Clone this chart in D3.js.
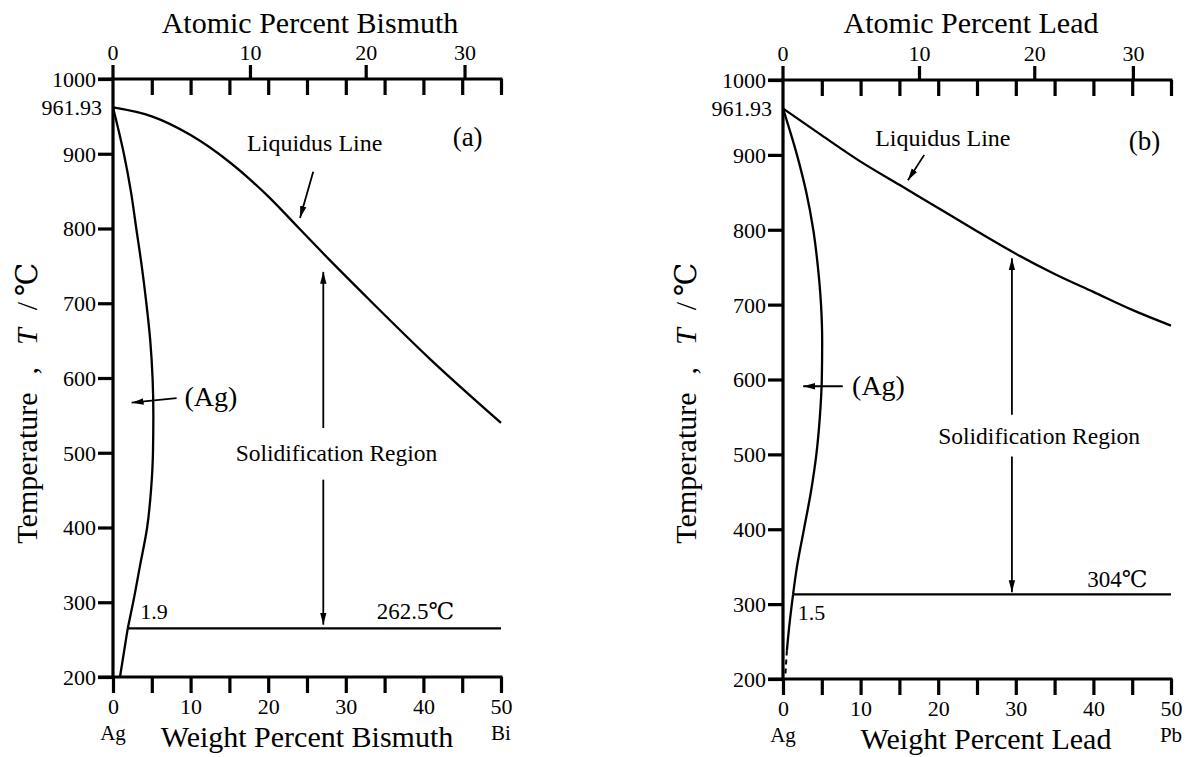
<!DOCTYPE html>
<html>
<head>
<meta charset="utf-8">
<script src="https://cdn.jsdelivr.net/npm/d3@7"></script>
<style>
  body { margin: 0; background: #fff; }
  svg { display: block; }
  svg text { font-family: "Liberation Serif", "DejaVu Serif", serif; fill: #000; white-space: pre; }
</style>
</head>
<body>
<svg id="chart" width="1186" height="757"></svg>
<script>
// axis ticks
const wtTicks = [0, 5, 10, 15, 20, 25, 30, 35, 40, 45, 50];
const tempTicks = [1000, 900, 800, 700, 600, 500, 400, 300, 200];
const atTicks = [0, 10, 20, 30];
const agMelt = 961.93;

// atomic weights, used to place the atomic percent scale
const massAg = 107.87, massBi = 208.98, massPb = 207.2;

// (a) Ag-Bi, [wt%, T]
const biLiquidus = [[0, 961.93], [5, 950], [10, 925], [15, 889], [20, 843], [24, 800], [28, 757],
  [33, 705], [41, 624], [50, 540]];
const biSolidus = [[0, 961.93], [1.4, 900], [2.3, 850], [3.0, 800], [3.7, 750], [4.3, 700],
  [4.8, 650], [5.1, 600], [5.2, 550], [5.15, 500], [4.9, 450], [4.4, 400], [3.5, 350],
  [2.6, 300], [1.9, 265]];
const biSolvus = [[1.9, 265], [0.9, 200]];
const biEutectic = 265;

// (b) Ag-Pb
const pbLiquidus = [[0, 961.93], [5, 926], [10, 891], [15, 860], [20, 829], [25, 798], [30, 768],
  [35, 741], [40, 717], [45, 693], [50, 672]];
const pbSolidus = [[0, 961.93], [1.8, 900], [3.0, 850], [3.9, 800], [4.5, 750], [4.9, 700],
  [5.05, 650], [5.0, 600], [4.75, 550], [4.3, 500], [3.6, 450], [2.7, 400], [1.8, 350], [1.3, 313]];
const pbSolvus = [[1.3, 313], [0.8, 270], [0.5, 238]];
const pbSolvusDashed = [[0.5, 238], [0.3, 205]];
const pbMonotectic = 313;

const svg = d3.select("#chart");

svg.append("defs").append("marker")
  .attr("id", "head")
  .attr("viewBox", "0 0 12 8")
  .attr("refX", 12).attr("refY", 4)
  .attr("markerWidth", 12).attr("markerHeight", 8)
  .attr("markerUnits", "userSpaceOnUse")
  .attr("orient", "auto")
  .append("path").attr("d", "M0,0.8 L12,4 L0,7.2 Z").attr("fill", "#000");

function toWt(at, m) {
  return 100 * at * m / (at * m + (100 - at) * massAg);
}

function drawPanel(p) {
  const g = svg.append("g");
  const x = d3.scaleLinear().domain([0, 50]).range([p.x0, p.x0 + 388]);
  const y = d3.scaleLinear().domain([200, 1000]).range([p.yBottom, p.yTop]);

  // axis lines
  g.append("line").attr("x1", x(0)).attr("x2", x(0)).attr("y1", y(1000) - 1.5).attr("y2", y(200) + 1.5)
    .attr("stroke", "#000").attr("stroke-width", 3.2);
  [1000, 200].forEach(t => {
    g.append("line").attr("x1", x(0) - 15).attr("x2", x(50) + 1.5).attr("y1", y(t)).attr("y2", y(t))
      .attr("stroke", "#000").attr("stroke-width", 3.2);
  });

  const bottom = g.append("g").attr("transform", `translate(0,${y(200)})`)
    .call(d3.axisBottom(x).tickValues(wtTicks).tickSize(16).tickPadding(2)
      .tickFormat(d => d % 10 === 0 ? d : ""));
  // weight percent ticks hanging from the top axis
  const topDown = g.append("g").attr("transform", `translate(0,${y(1000)})`)
    .call(d3.axisBottom(x).tickValues(wtTicks.slice(1)).tickSize(16).tickFormat(""));
  // atomic percent ticks, placed on the weight scale
  const topUp = g.append("g").attr("transform", `translate(0,${y(1000)})`);
  const upTick = topUp.selectAll("g").data(atTicks).join("g")
    .attr("transform", d => `translate(${x(toWt(d, p.mass))},0)`);
  upTick.append("line").attr("y2", -14).attr("stroke", "#000").attr("stroke-width", 3.2);
  upTick.append("text").attr("y", -19).attr("text-anchor", "middle").attr("font-size", 22).text(d => d);

  const left = g.append("g").attr("transform", `translate(${x(0)},0)`)
    .call(d3.axisLeft(y).tickValues(tempTicks).tickSize(15).tickPadding(2).tickFormat(d3.format("d")));

  [bottom, topDown, left].forEach(a => {
    a.attr("font-family", null).attr("font-size", null).attr("fill", null);
    a.select(".domain").remove();
    a.selectAll(".tick line").attr("stroke-width", 3.2);
    a.selectAll(".tick text").attr("font-size", 22);
  });
  bottom.selectAll(".tick text").attr("dy", "0.85em");
  left.selectAll(".tick text").attr("dy", "0.34em");

  g.append("text").attr("x", x(0) - 11).attr("y", y(agMelt)).attr("dy", "0.34em")
    .attr("text-anchor", "end").attr("font-size", 22).text("961.93");

  // element labels under the axis ends
  g.append("text").attr("x", x(0)).attr("y", y(200) + 63).attr("text-anchor", "middle")
    .attr("font-size", 21).text("Ag");
  g.append("text").attr("x", x(50)).attr("y", y(200) + 63).attr("text-anchor", "middle")
    .attr("font-size", 21).text(p.el);

  // axis titles
  g.append("text").attr("x", p.titleX).attr("y", 33).attr("text-anchor", "middle")
    .attr("font-size", 30).text(p.topTitle);
  g.append("text").attr("x", p.bottomX).attr("y", p.bottomY).attr("text-anchor", "middle")
    .attr("font-size", 30).text(p.bottomTitle);
  const yt = g.append("text").attr("transform", `translate(${p.yTitleX},403) rotate(-90)`)
    .attr("text-anchor", "middle").attr("font-size", 30).attr("dy", "0.35em");
  yt.append("tspan").text("Temperature");
  yt.append("tspan").attr("dx", 18).text(",");
  yt.append("tspan").attr("dx", 22).attr("font-style", "italic").text("T");
  yt.append("tspan").attr("dx", 18).text("/");
  yt.append("tspan").attr("dx", 6).text("℃");

  // phase boundaries
  const lineX = d3.line().x(d => x(d[0])).y(d => y(d[1])).curve(d3.curveMonotoneX);
  const lineY = d3.line().x(d => x(d[0])).y(d => y(d[1])).curve(d3.curveMonotoneY);
  const curves = g.append("g").attr("fill", "none").attr("stroke", "#000").attr("stroke-width", 2.3);
  curves.append("path").datum(p.liquidus).attr("d", lineX);
  curves.append("path").datum(p.solidus).attr("d", lineY);
  curves.append("path").datum(p.solvus).attr("d", lineY);
  if (p.dashed) {
    curves.append("path").datum(p.dashed).attr("d", lineY)
      .attr("stroke-dasharray", "5,4").attr("stroke-width", 2);
  }

  // invariant line
  g.append("line").attr("x1", x(p.solvus[0][0])).attr("x2", x(50))
    .attr("y1", y(p.flat)).attr("y2", y(p.flat)).attr("stroke", "#000").attr("stroke-width", 2.3);

  // annotations
  p.notes.forEach(n => g.append("text").attr("x", x(n[1])).attr("y", y(n[2]))
    .attr("font-size", n[3]).attr("text-anchor", n[4] || "start").text(n[0]));
  p.arrows.forEach(a => g.append("line")
    .attr("x1", x(a[0][0])).attr("y1", y(a[0][1])).attr("x2", x(a[1][0])).attr("y2", y(a[1][1]))
    .attr("stroke", "#000").attr("stroke-width", 1.8).attr("marker-end", "url(#head)"));
}

drawPanel({
  x0: 113, yTop: 79, yBottom: 677, mass: massBi, el: "Bi",
  topTitle: "Atomic Percent Bismuth", bottomTitle: "Weight Percent Bismuth",
  titleX: 310, bottomX: 307, bottomY: 747, yTitleX: 26,
  liquidus: biLiquidus, solidus: biSolidus, solvus: biSolvus, flat: biEutectic,
  notes: [
    ["Liquidus Line", 26.0, 904, 24, "middle"],
    ["(a)", 45.7, 910, 27, "middle"],
    ["(Ag)", 9.2, 562, 28],
    ["Solidification Region", 28.8, 489, 23.5, "middle"],
    ["1.9", 3.5, 278, 22],
    ["262.5℃", 34, 278, 23]
  ],
  arrows: [
    [[25.8, 876], [24.1, 814]],
    [[8.2, 573], [2.4, 567]],
    [[27.1, 533], [27.1, 742]],
    [[27.1, 464], [27.1, 270]]
  ]
});

drawPanel({
  x0: 783, yTop: 80, yBottom: 679, mass: massPb, el: "Pb",
  topTitle: "Atomic Percent Lead", bottomTitle: "Weight Percent Lead",
  titleX: 971, bottomX: 986, bottomY: 749, yTitleX: 685,
  liquidus: pbLiquidus, solidus: pbSolidus, solvus: pbSolvus, dashed: pbSolvusDashed, flat: pbMonotectic,
  notes: [
    ["Liquidus Line", 20.6, 912, 24, "middle"],
    ["(b)", 46.6, 907, 27, "middle"],
    ["(Ag)", 8.9, 579, 28],
    ["Solidification Region", 33.0, 514, 23.5, "middle"],
    ["1.5", 1.9, 279, 22],
    ["304℃", 39.2, 323, 23]
  ],
  arrows: [
    [[18.2, 900], [16.1, 866]],
    [[7.7, 591], [2.6, 591]],
    [[29.5, 553], [29.5, 762]],
    [[29.5, 497], [29.5, 316]]
  ]
});
</script>
</body>
</html>
